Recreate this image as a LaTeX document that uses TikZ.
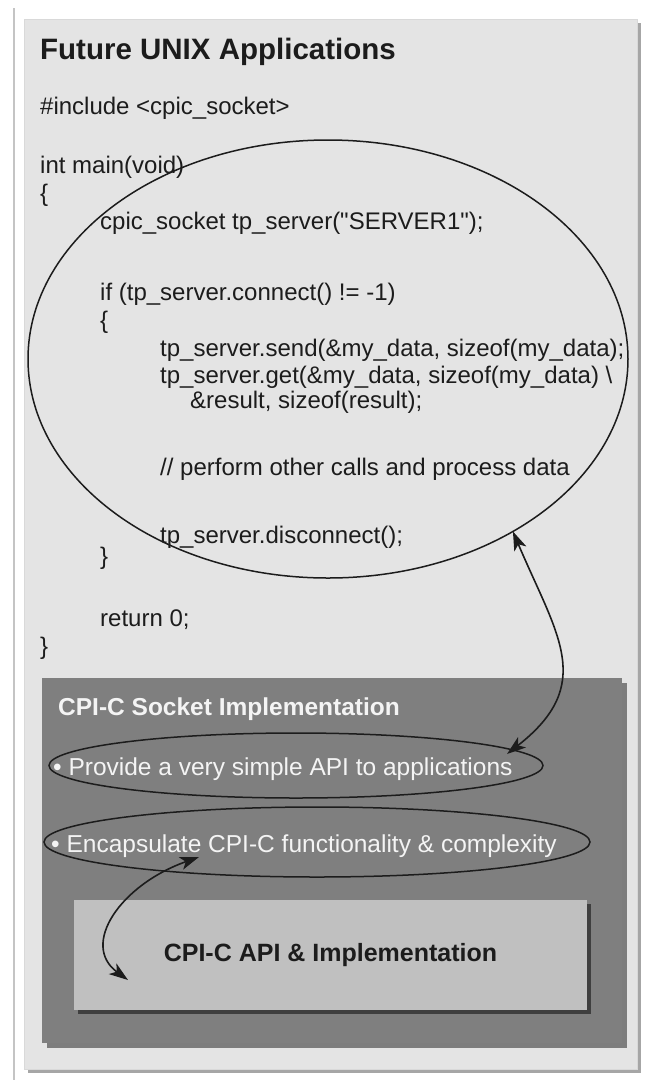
\documentclass[tikz,border=0pt]{standalone}
\usepackage{fontspec}
\setmainfont{Liberation Sans}
\newfontfamily\codefont{Liberation Sans}[Ligatures=TeXOff]
\usetikzlibrary{shapes.geometric,arrows.meta,shadows}
\definecolor{panelgray}{HTML}{E4E4E4}
\definecolor{sockgray}{HTML}{7F7F7F}
\definecolor{implgray}{HTML}{C0C0C0}
\definecolor{rulegray}{HTML}{C4C4C4}
\definecolor{ink}{HTML}{1C1C1C}
\definecolor{paleink}{HTML}{F4F4F4}
\begin{document}
\begin{tikzpicture}[x=1pt,y=-1pt,
  panel/.style={rectangle, fill=panelgray, draw=white!85!black, line width=0.6pt, inner sep=0pt,
    drop shadow={shadow xshift=4pt, shadow yshift=-4pt, opacity=0.35, fill=black}},
  sockpanel/.style={rectangle, fill=sockgray, inner sep=0pt,
    drop shadow={shadow xshift=5pt, shadow yshift=-5pt, opacity=0.45, fill=black}},
  implbox/.style={rectangle, fill=implgray, inner sep=0pt, text=ink,
    font=\fontsize{25}{30}\selectfont\bfseries,
    drop shadow={shadow xshift=4pt, shadow yshift=-4pt, opacity=0.5, fill=black}},
  headline/.style={anchor=base west, inner sep=0pt, text=ink, font=\fontsize{29.5}{34}\selectfont\bfseries},
  sockhead/.style={anchor=base west, inner sep=0pt, text=paleink, font=\fontsize{24.5}{29}\selectfont\bfseries},
  codeline/.style={anchor=base west, inner sep=0pt, text=ink, font=\codefont\fontsize{24}{28}\selectfont},
  bulletline/.style={anchor=base west, inner sep=0pt, text=paleink, font=\fontsize{24.5}{29}\selectfont},
  ring/.style={ellipse, draw=ink, line width=1.5pt, inner sep=0pt, outer sep=0pt},
  link/.style={draw=ink, line width=1.6pt,
    {Stealth[length=19pt,width=13pt,inset=5pt]}-{Stealth[length=19pt,width=13pt,inset=5pt]}}
]
\useasboundingbox (0,0) rectangle (652,1080);
\fill[white] (0,0) rectangle (652,1080);

% left margin rule
\draw[rulegray, line width=1.5pt] (14,8) -- (14,1080);

% application panel
\node[panel, minimum width=613pt, minimum height=1050pt] (apps) at (330.5,544) {};
\node[headline] (appstitle) at (40,59) {Future UNIX Applications};

% sample program
\node[codeline] (inc)      at (40,114)  {\#include <cpic\_socket>};
\node[codeline] (intmain)  at (40,173)  {int main(void)};
\node[codeline] (obrace)   at (40,201)  {\{};
\node[codeline] (sockdecl) at (100,229) {cpic\_socket tp\_server("SERVER1");};
\node[codeline] (ifline)   at (100,300) {if (tp\_server.connect() != -1)};
\node[codeline] (ibrace)   at (100,328) {\{};
\node[codeline] (sendline) at (160,356) {tp\_server.send(\&my\_data, sizeof(my\_data);};
\node[codeline] (getline)  at (160,383) {tp\_server.get(\&my\_data, sizeof(my\_data) \textbackslash};
\node[codeline] (resline)  at (190,408) {\&result, sizeof(result);};
\node[codeline] (cmtline)  at (160,475) {// perform other calls and process data};
\node[codeline] (discline) at (160,543) {tp\_server.disconnect();};
\node[codeline] (cbrace)   at (100,564) {\}};
\node[codeline] (retline)  at (100,626) {return 0;};
\node[codeline] (fbrace)   at (40,654)  {\}};

% ring around the socket calls
\node[ring, minimum width=600pt, minimum height=438pt] (mainloop) at (328,359) {};

% socket implementation layer
\node[sockpanel, minimum width=580pt, minimum height=365pt] (sock) at (332,860.5) {};
\node[sockhead] (socktitle) at (58,715) {CPI-C Socket Implementation};

\node[bulletline] (apitext) at (53,775) {• Provide a very simple API to applications};
\node[ring, minimum width=494pt, minimum height=65pt] (api) at (296,765.5) {};

\node[bulletline] (enctext) at (51,852) {• Encapsulate CPI-C functionality \& complexity};
\node[ring, minimum width=546pt, minimum height=70pt] (enc) at (317,842) {};

% native CPI-C layer
\node[implbox, minimum width=513pt, minimum height=110pt] (impl) at (330.5,955) {CPI-C API \& Implementation};

% connectors
\coordinate (apiend) at (507,754);
\coordinate (encstart) at (199,857);
\coordinate (implend) at (128,980);

\path[link] (mainloop.-43) to[out=-67, in=38, looseness=1.3] (apiend);
\path[link] (encstart) .. controls (120,885) and (80,945) .. (implend);
\end{tikzpicture}
\end{document}
